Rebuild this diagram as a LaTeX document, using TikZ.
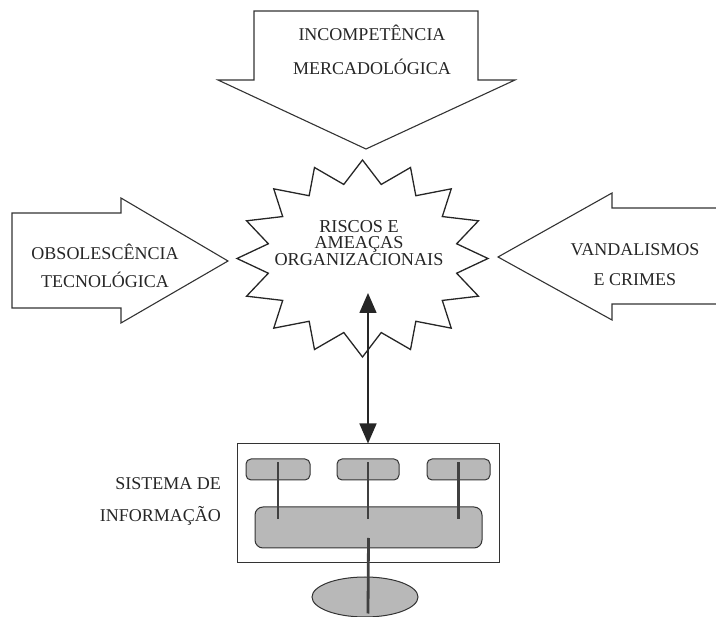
\documentclass[tikz,border=0pt]{standalone}
\usepackage{fontspec}
\setmainfont{Liberation Serif}
\usetikzlibrary{shapes.geometric,arrows.meta,positioning,calc}

\begin{document}
\begin{tikzpicture}[
    x=1pt, y=-1pt,
    bigarrow/.style={draw=black!80, line width=1.1pt, line join=miter},
    burst/.style={draw=black!85, line width=1.3pt, line join=miter},
    txt/.style={font=\fontsize{18}{#1}\selectfont, align=center, text=black!85, inner sep=0pt},
    block/.style={rectangle, rounded corners=5pt, draw=black!80, line width=1pt, fill=black!28, inner sep=0pt},
    link/.style={draw=black!75, line width=2.8pt},
    dbl/.style={draw=black!85, line width=1.5pt, arrows={Triangle[length=20pt,width=17pt]-Triangle[length=20pt,width=17pt]}}
]
    \useasboundingbox (0,0) rectangle (716,617);

    % Outer arrows
    \draw[bigarrow] (254,11) -- (478,11) -- (478,80) -- (515,80) -- (366,149)
        -- (218,80) -- (254,80) -- cycle;
    \draw[bigarrow] (12,213) -- (121,213) -- (121,198) -- (228,261)
        -- (121,323) -- (121,308) -- (12,308) -- cycle;
    \draw[bigarrow] (716,208) -- (612,208) -- (612,193) -- (498,257)
        -- (612,320) -- (612,304) -- (716,304);

    \node[txt=34] (mkt) at (372,50) {INCOMPETÊNCIA\\MERCADOLÓGICA};
    \node[txt=28] (obs) at (105,266) {OBSOLESCÊNCIA\\TECNOLÓGICA};
    \node[txt=30] (vnd) at (635,265) {VANDALISMOS\\E CRIMES};

    % Central burst
    \draw[burst, shift={(362.5,258.5)}] (90:125.5 and 98.5)
        \foreach \k in {0,...,15} {
            -- ({101.25+22.5*\k}:96 and 75.5) -- ({112.5+22.5*\k}:125.5 and 98.5)
        } -- cycle;
    \node[font=\fontsize{18.2}{16.5}\selectfont, align=center, text=black!85, inner sep=0pt]
        (risk) at (359,243) {RISCOS E\\AMEAÇAS\\ORGANIZACIONAIS};
    \coordinate (riskin) at (368,293);

    % Information system
    \node[draw=black!80, line width=1pt, minimum width=262pt, minimum height=119pt,
        inner sep=0pt] (sis) at (368,503.5) {};
    \node[txt=32, align=right, anchor=east] (sislbl) at (221,501) {SISTEMA DE\\INFORMAÇÃO};

    \foreach \n/\cx/\w in {s1/278/64, s2/368/62, s3/458.5/63} {
        \node[block, minimum width=\w pt, minimum height=21pt] (\n) at (\cx,469.5) {};
    }
    \node[block, rounded corners=8pt, minimum width=227pt, minimum height=41pt] (big) at (368.5,527.5) {};
    \node[ellipse, draw=black!80, line width=1pt, fill=black!28, minimum width=106pt,
        minimum height=40pt, inner sep=0pt] (db) at (365,597) {};

    \foreach \n in {s1,s2,s3} {
        \draw[link] ($(\n.north)+(0,4)$) -- ($(\n.north |- big.north)+(0,13)$);
    }
    \draw[link] ($(big.center)+(0,10.5)$) -- ($(s2.south |- db.south)+(0,-4)$);

    % Link between burst and system
    \draw[dbl] (riskin) -- (sis.north);
\end{tikzpicture}
\end{document}
